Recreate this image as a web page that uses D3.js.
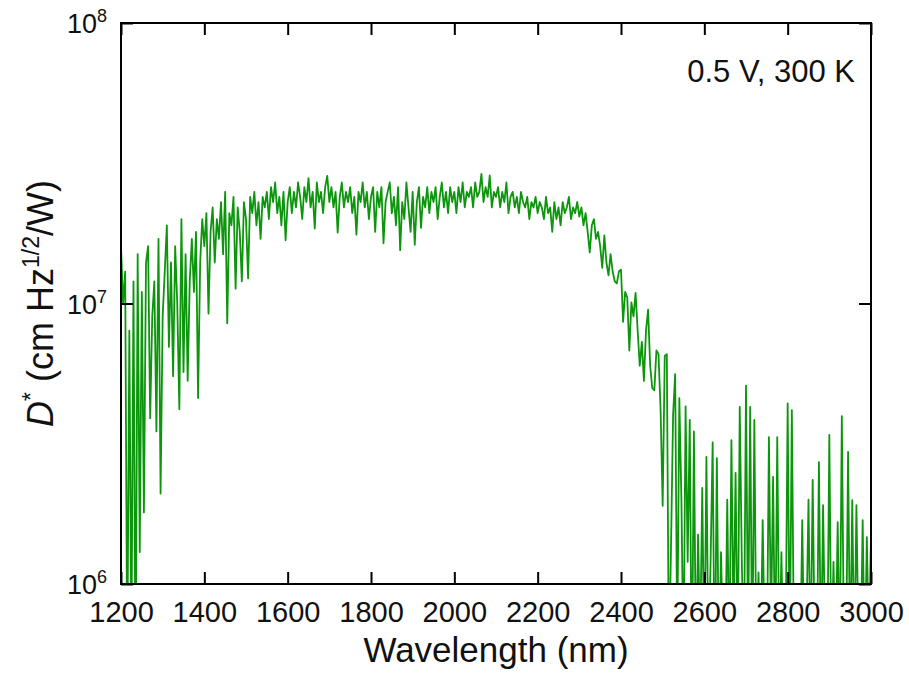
<!DOCTYPE html>
<html>
<head>
<meta charset="utf-8">
<script src="https://cdn.jsdelivr.net/npm/d3@7"></script>
<style>
  body { margin: 0; background: #fff; }
  svg { font-family: "Liberation Sans", Arial, sans-serif; }
</style>
</head>
<body>
<div id="chart"></div>
<script>
// Wavelength grid (nm) and detectivity D*, in units of 1e6 cm Hz^1/2/W
const lambdaStart = 1200;
const lambdaStep = 5;
const dstar = [
  16, 10, 13, 0.5, 8, 0.6, 12, 0.4, 15, 1.3,
  11, 1.8, 14, 16, 3.9, 9, 12, 3.5, 17, 2.1,
  9, 13, 19, 7, 14, 5.5, 16, 10, 4.2, 20,
  5.7, 15, 5.3, 12, 17, 11, 18, 4.6, 14, 20,
  16, 21, 9.2, 18, 22, 14, 20, 17, 23, 15,
  25, 8.5, 21, 19, 24, 11.3, 22, 18, 12, 23,
  20, 12.3, 24, 21, 25, 19, 23, 17, 24, 22,
  25, 20, 26, 23, 27, 21, 24, 19, 25, 16.8,
  23, 26, 21, 25, 22, 27, 24, 20, 26, 23,
  28, 22, 25, 18.5, 27, 23, 25, 21, 26, 28.5,
  23, 26, 22, 25, 17.9, 24, 27, 22, 25, 23,
  26, 21, 24, 17.6, 25, 23, 27, 22, 25, 20,
  24, 26, 18, 25, 22, 26, 16.4, 23, 25, 27,
  21, 24, 19, 26, 15.5, 23, 20, 27, 22, 18,
  25, 16.2, 23, 26, 18.6, 24, 22, 26, 21, 25,
  23, 26, 20, 24, 27, 22, 25, 21, 26, 23,
  25, 21, 26, 23, 27, 22, 25, 24, 26, 22,
  27, 24, 25, 29, 23, 26, 24, 28.6, 22, 25,
  24, 26, 22, 25, 23, 27, 21, 24, 25, 22,
  24, 21, 25, 23, 22, 24, 20, 23, 22, 24,
  21, 23, 22, 20, 24, 21, 22, 18, 23, 20,
  22, 19, 23, 21, 22, 24, 20, 22, 21, 23,
  20.4, 22, 19, 21, 18, 15.2, 19, 20, 17, 18,
  16, 13.4, 17.5, 14, 12.6, 15, 13, 12, 11.8, 13,
  13.2, 8.6, 11, 10.5, 6.8, 10.1, 9, 10.9, 8, 6,
  7.3, 5.3, 8, 9.5, 6, 5, 4.9, 6.8, 6.6, 4.2,
  1.9, 6.5, 6.6, 0.5, 1.35, 4, 5.6, 0.6, 4.6, 2,
  0.5, 4.3, 1.2, 3.85, 0.4, 3.5, 0.5, 1.5, 0.6, 2.2,
  0.5, 2.84, 0.5, 1.2, 3.2, 0.4, 2.81, 0.5, 1.3, 0.6,
  0.5, 2.0, 0.5, 3.26, 0.7, 2.49, 0.5, 4.28, 1.2, 0.5,
  5.1, 0.6, 4.28, 0.5, 3.85, 0.5, 1.1, 0.5, 1.69, 0.6,
  0.5, 3.34, 0.7, 2.41, 0.5, 3.34, 0.5, 1.3, 0.5, 0.6,
  4.4, 0.5, 4.17, 0.6, 0.5, 1.0, 0.5, 1.69, 0.5, 0.7,
  2.0, 0.5, 2.35, 0.6, 0.5, 2.72, 0.5, 1.91, 0.6, 0.5,
  3.4, 0.5, 1.2, 0.5, 1.66, 0.5, 3.97, 0.6, 0.5, 2.96,
  0.5, 1.99, 0.5, 1.91, 0.6, 0.5, 1.69, 0.5, 1.47, 0.6,
  1.5
];
const xTicks = [1200, 1400, 1600, 1800, 2000, 2200, 2400, 2600, 2800, 3000];
const yTicks = [1e6, 1e7, 1e8];
const yTickExp = ["6", "7", "8"];
const note = "0.5 V, 300 K";

const data = dstar.map((v, i) => ({ wl: lambdaStart + i * lambdaStep, d: v * 1e6 }));

// Setting margins
const margin = { top: 23, right: 38, bottom: 105, left: 121 };
const width = 909 - margin.left - margin.right;
const height = 689 - margin.top - margin.bottom;

const svg = d3.select("#chart")
  .append("svg")
  .attr("width", 909)
  .attr("height", 689)
  .append("g")
  .attr("transform", `translate(${margin.left},${margin.top})`);

const x = d3.scaleLinear().domain([1200, 3000]).range([0, width]);
const y = d3.scaleLog().domain([1e6, 1e8]).range([height, 0]);

svg.append("clipPath").attr("id", "clip")
  .append("rect").attr("width", width).attr("height", height);

// spectrum
svg.append("path")
  .datum(data)
  .attr("clip-path", "url(#clip)")
  .attr("fill", "none")
  .attr("stroke", "#0d960d")
  .attr("stroke-width", 1.8)
  .attr("stroke-linejoin", "round")
  .attr("d", d3.line().x(d => x(d.wl)).y(d => y(d.d)));

// axes, ticks pointing inward
const bottomAxis = svg.append("g")
  .attr("transform", `translate(0,${height})`)
  .call(d3.axisBottom(x).tickValues(xTicks).tickSizeInner(-12).tickSizeOuter(0).tickPadding(17).tickFormat(d3.format("d")));
svg.append("g")
  .call(d3.axisTop(x).tickValues(xTicks).tickSizeInner(-12).tickSizeOuter(0).tickFormat(""));
svg.append("g")
  .call(d3.axisLeft(y).tickValues(yTicks).tickSizeInner(-12).tickSizeOuter(0).tickFormat(""));
svg.append("g")
  .attr("transform", `translate(${width},0)`)
  .call(d3.axisRight(y).tickValues(yTicks).tickSizeInner(-12).tickSizeOuter(0).tickFormat(""));

svg.selectAll(".domain").remove();
svg.selectAll(".tick line").attr("stroke", "#000").attr("stroke-width", 2);
bottomAxis.selectAll("text")
  .style("font-size", "29px")
  .style("font-family", "'Liberation Sans', Arial, sans-serif")
  .attr("fill", "#111");

// frame
svg.append("rect")
  .attr("width", width).attr("height", height)
  .attr("fill", "none").attr("stroke", "#000").attr("stroke-width", 2);

// y tick labels with superscripts
const yl = svg.selectAll(".ylab")
  .data(yTicks)
  .enter().append("text")
  .attr("class", "ylab")
  .attr("x", -14)
  .attr("y", d => y(d) + 10)
  .attr("text-anchor", "end")
  .style("font-size", "27px")
  .attr("fill", "#111");
yl.append("tspan").text("10");
yl.append("tspan")
  .attr("dy", -11)
  .style("font-size", "18px")
  .text((d, i) => yTickExp[i]);

// annotation
svg.append("text")
  .attr("x", width - 16)
  .attr("y", 59)
  .attr("text-anchor", "end")
  .style("font-size", "31px")
  .attr("fill", "#111")
  .text(note);

// x axis label
svg.append("text")
  .attr("x", width / 2)
  .attr("y", height + 78)
  .attr("text-anchor", "middle")
  .style("font-size", "35px")
  .attr("fill", "#111")
  .text("Wavelength (nm)");

// y axis label
const ylab = svg.append("text")
  .attr("transform", `translate(${-68},${height / 2}) rotate(-90)`)
  .attr("text-anchor", "middle")
  .style("font-size", "36px")
  .attr("fill", "#111");
ylab.append("tspan").attr("font-style", "italic").text("D");
ylab.append("tspan").attr("dy", -14).style("font-size", "23px").text("*");
ylab.append("tspan").attr("dy", 14).text(" (cm Hz");
ylab.append("tspan").attr("dy", -14).style("font-size", "23px").text("1/2");
ylab.append("tspan").attr("dy", 14).text("/W)");
</script>
</body>
</html>
